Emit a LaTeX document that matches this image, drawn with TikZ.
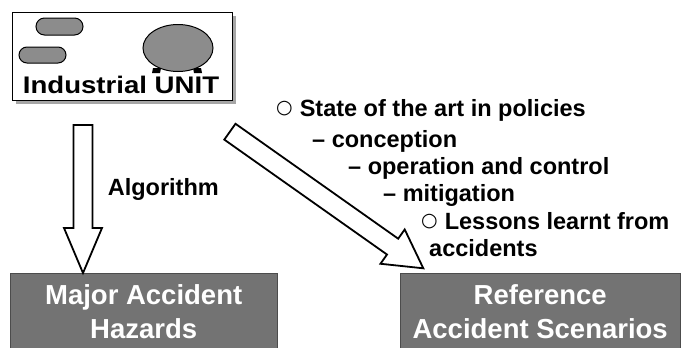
\documentclass[tikz,border=0pt]{standalone}
\usepackage{fontspec}
\setmainfont{Liberation Sans}
\newfontfamily\widefont[FakeStretch=1.15]{Liberation Sans}
\newfontfamily\dejavu{DejaVu Sans}
\usetikzlibrary{calc,shapes.geometric,shapes.misc}
\newcommand\blockarrow[5]{%
  \coordinate (#1-b) at ($(#2)!#5!(#1)$);
  \draw[barrow] ($(#1)!#3!90:(#2)$) -- ($(#1-b)!#3!-90:(#1)$) -- ($(#1-b)!#4!-90:(#1)$)
    -- (#2) -- ($(#1-b)!#4!90:(#1)$) -- ($(#1-b)!#3!90:(#1)$) -- ($(#1)!#3!-90:(#2)$) -- cycle;}
\newcommand\bul{\raisebox{3pt}{\dejavu\mdseries\fontsize{19}{20}\selectfont ○}}
\begin{document}
\begin{tikzpicture}[x=1pt,y=-1pt,
  txt/.style={font=\bfseries\fontsize{23.5}{27}\selectfont, inner sep=0pt, anchor=base west},
  hazbox/.style={fill=black!55, draw=black!70, inner sep=0pt, anchor=north west,
    text=white, align=center, font=\bfseries\fontsize{27.5}{34}\selectfont},
  part/.style={draw=black, line width=1pt, fill=black!45},
  barrow/.style={draw=black, line width=1.8pt, fill=white, line join=miter}]
\useasboundingbox (0,0) rectangle (688,348);
% industrial unit
\fill[black!35] (16,16) rectangle (236,104);
\node[draw, line width=1.2pt, fill=white, minimum width=220pt, minimum height=88pt,
  anchor=north west, inner sep=0pt] (unit) at (12,12) {};
\node[part, rounded rectangle, minimum width=47pt, minimum height=17pt, inner sep=0pt] (cap1) at (59.5,26.5) {};
\node[part, rounded rectangle, minimum width=47pt, minimum height=16pt, inner sep=0pt] (cap2) at (42.5,55) {};
\fill (153,68) -- (161,68) -- (160,73) -- (152,73) -- cycle;
\fill (193,68) -- (201,68) -- (202,73) -- (194,73) -- cycle;
\node[part, ellipse, minimum width=70pt, minimum height=47pt, inner sep=0pt] (tank) at (178,48) {};
\node[font=\widefont\bfseries\fontsize{24}{28}\selectfont, inner sep=0pt, anchor=base] (unitlbl) at (121,93) {Industrial UNIT};
% result boxes
\node[hazbox, minimum width=267pt, minimum height=76pt] (mah) at (10,273) {Major Accident\\Hazards};
\node[hazbox, minimum width=280pt, minimum height=76pt] (ras) at (400,273) {Reference\\Accident Scenarios};
% arrows
\coordinate (dT) at (83,125);
\coordinate (dH) at (mah.north -| dT);
\blockarrow{dT}{dH}{9.5pt}{19pt}{45pt}
\coordinate (rT) at (229.9,131.7);
\coordinate (rH) at (423.3,268.3);
\blockarrow{rT}{rH}{9.7pt}{21pt}{37.6pt}
\node[txt, anchor=base east] (algo) at (219,195) {Algorithm};
% policies text
\node[txt] (l1) at (276,116) {\bul\hspace{7pt}State of the art in policies};
\node[txt] (l2) at (312,147) {– conception};
\node[txt] (l3) at (348,174) {– operation and control};
\node[txt] (l4) at (383,201) {– mitigation};
\node[txt] (l5) at (421,229) {\bul\hspace{7pt}Lessons learnt from};
\node[txt] (l6) at (429,256) {accidents};
\end{tikzpicture}
\end{document}
